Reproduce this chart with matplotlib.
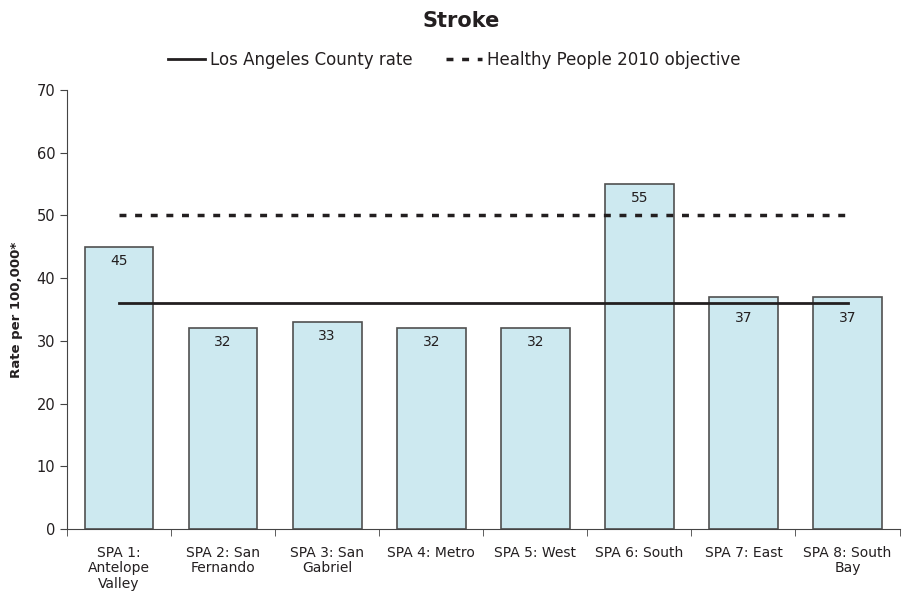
import numpy as np
import matplotlib.pyplot as plt

categories = ["SPA 1:\nAntelope\nValley", "SPA 2: San\nFernando", "SPA 3: San\nGabriel",
              "SPA 4: Metro", "SPA 5: West", "SPA 6: South", "SPA 7: East", "SPA 8: South\nBay"]
rates = [45, 32, 33, 32, 32, 55, 37, 37]
county_rate = 36
hp2010_objective = 50

plt.rcParams['font.family'] = 'DejaVu Sans'
txt = "#231f20"

fig = plt.figure(figsize=(9.05, 5.94), dpi=100)
ax = fig.add_axes([0.074, 0.1094, 0.92, 0.7391])

x = np.arange(len(categories))
ax.bar(x, rates, width=0.66, color="#cde9f0", edgecolor="#505050", linewidth=1.2, zorder=2)
for xi, v in zip(x, rates):
    ly = v - 2.2
    # push label below the county line when they would collide
    if abs(ly - county_rate) < 2:
        ly = county_rate - 2.4
    ax.text(xi, ly, str(v), ha="center", va="center", fontsize=10, color=txt, zorder=4)

ax.plot([x[0], x[-1]], [county_rate, county_rate], color="#231f20", lw=2,
        label="Los Angeles County rate", zorder=3)
ax.plot([x[0], x[-1]], [hp2010_objective, hp2010_objective], color="#231f20", lw=2.5,
        ls=(0, (2, 2.5)), label="Healthy People 2010 objective", zorder=3)

ax.set_xlim(-0.5, len(categories) - 0.5)
ax.set_ylim(0, 70)
ax.set_yticks(range(0, 71, 10))
ax.set_xticks(x)
ax.set_xticklabels(categories, fontsize=10, color=txt, linespacing=1.15)
ax.set_xticks(np.arange(-0.5, len(categories)), minor=True)
ax.tick_params(axis="x", which="major", length=0, pad=12)
ax.tick_params(axis="x", which="minor", length=5, color="#444444")
ax.tick_params(axis="y", length=5, labelsize=10.5, labelcolor=txt, color="#444444")
for s in ["top", "right"]:
    ax.spines[s].set_visible(False)
for s in ["left", "bottom"]:
    ax.spines[s].set_color("#444444")

ax.set_ylabel("Rate per 100,000*", fontsize=9.5, fontweight="bold", color=txt, labelpad=10)
fig.suptitle("Stroke", fontsize=15, fontweight="bold", color=txt, x=0.51, y=0.981)
leg = fig.legend(loc="center", bbox_to_anchor=(0.502, 0.899), ncol=2, frameon=False,
                 fontsize=12, handlelength=2.2, handletextpad=0.3, columnspacing=2.0,
                 labelcolor=txt)

fig.savefig("out.png", dpi=100)
